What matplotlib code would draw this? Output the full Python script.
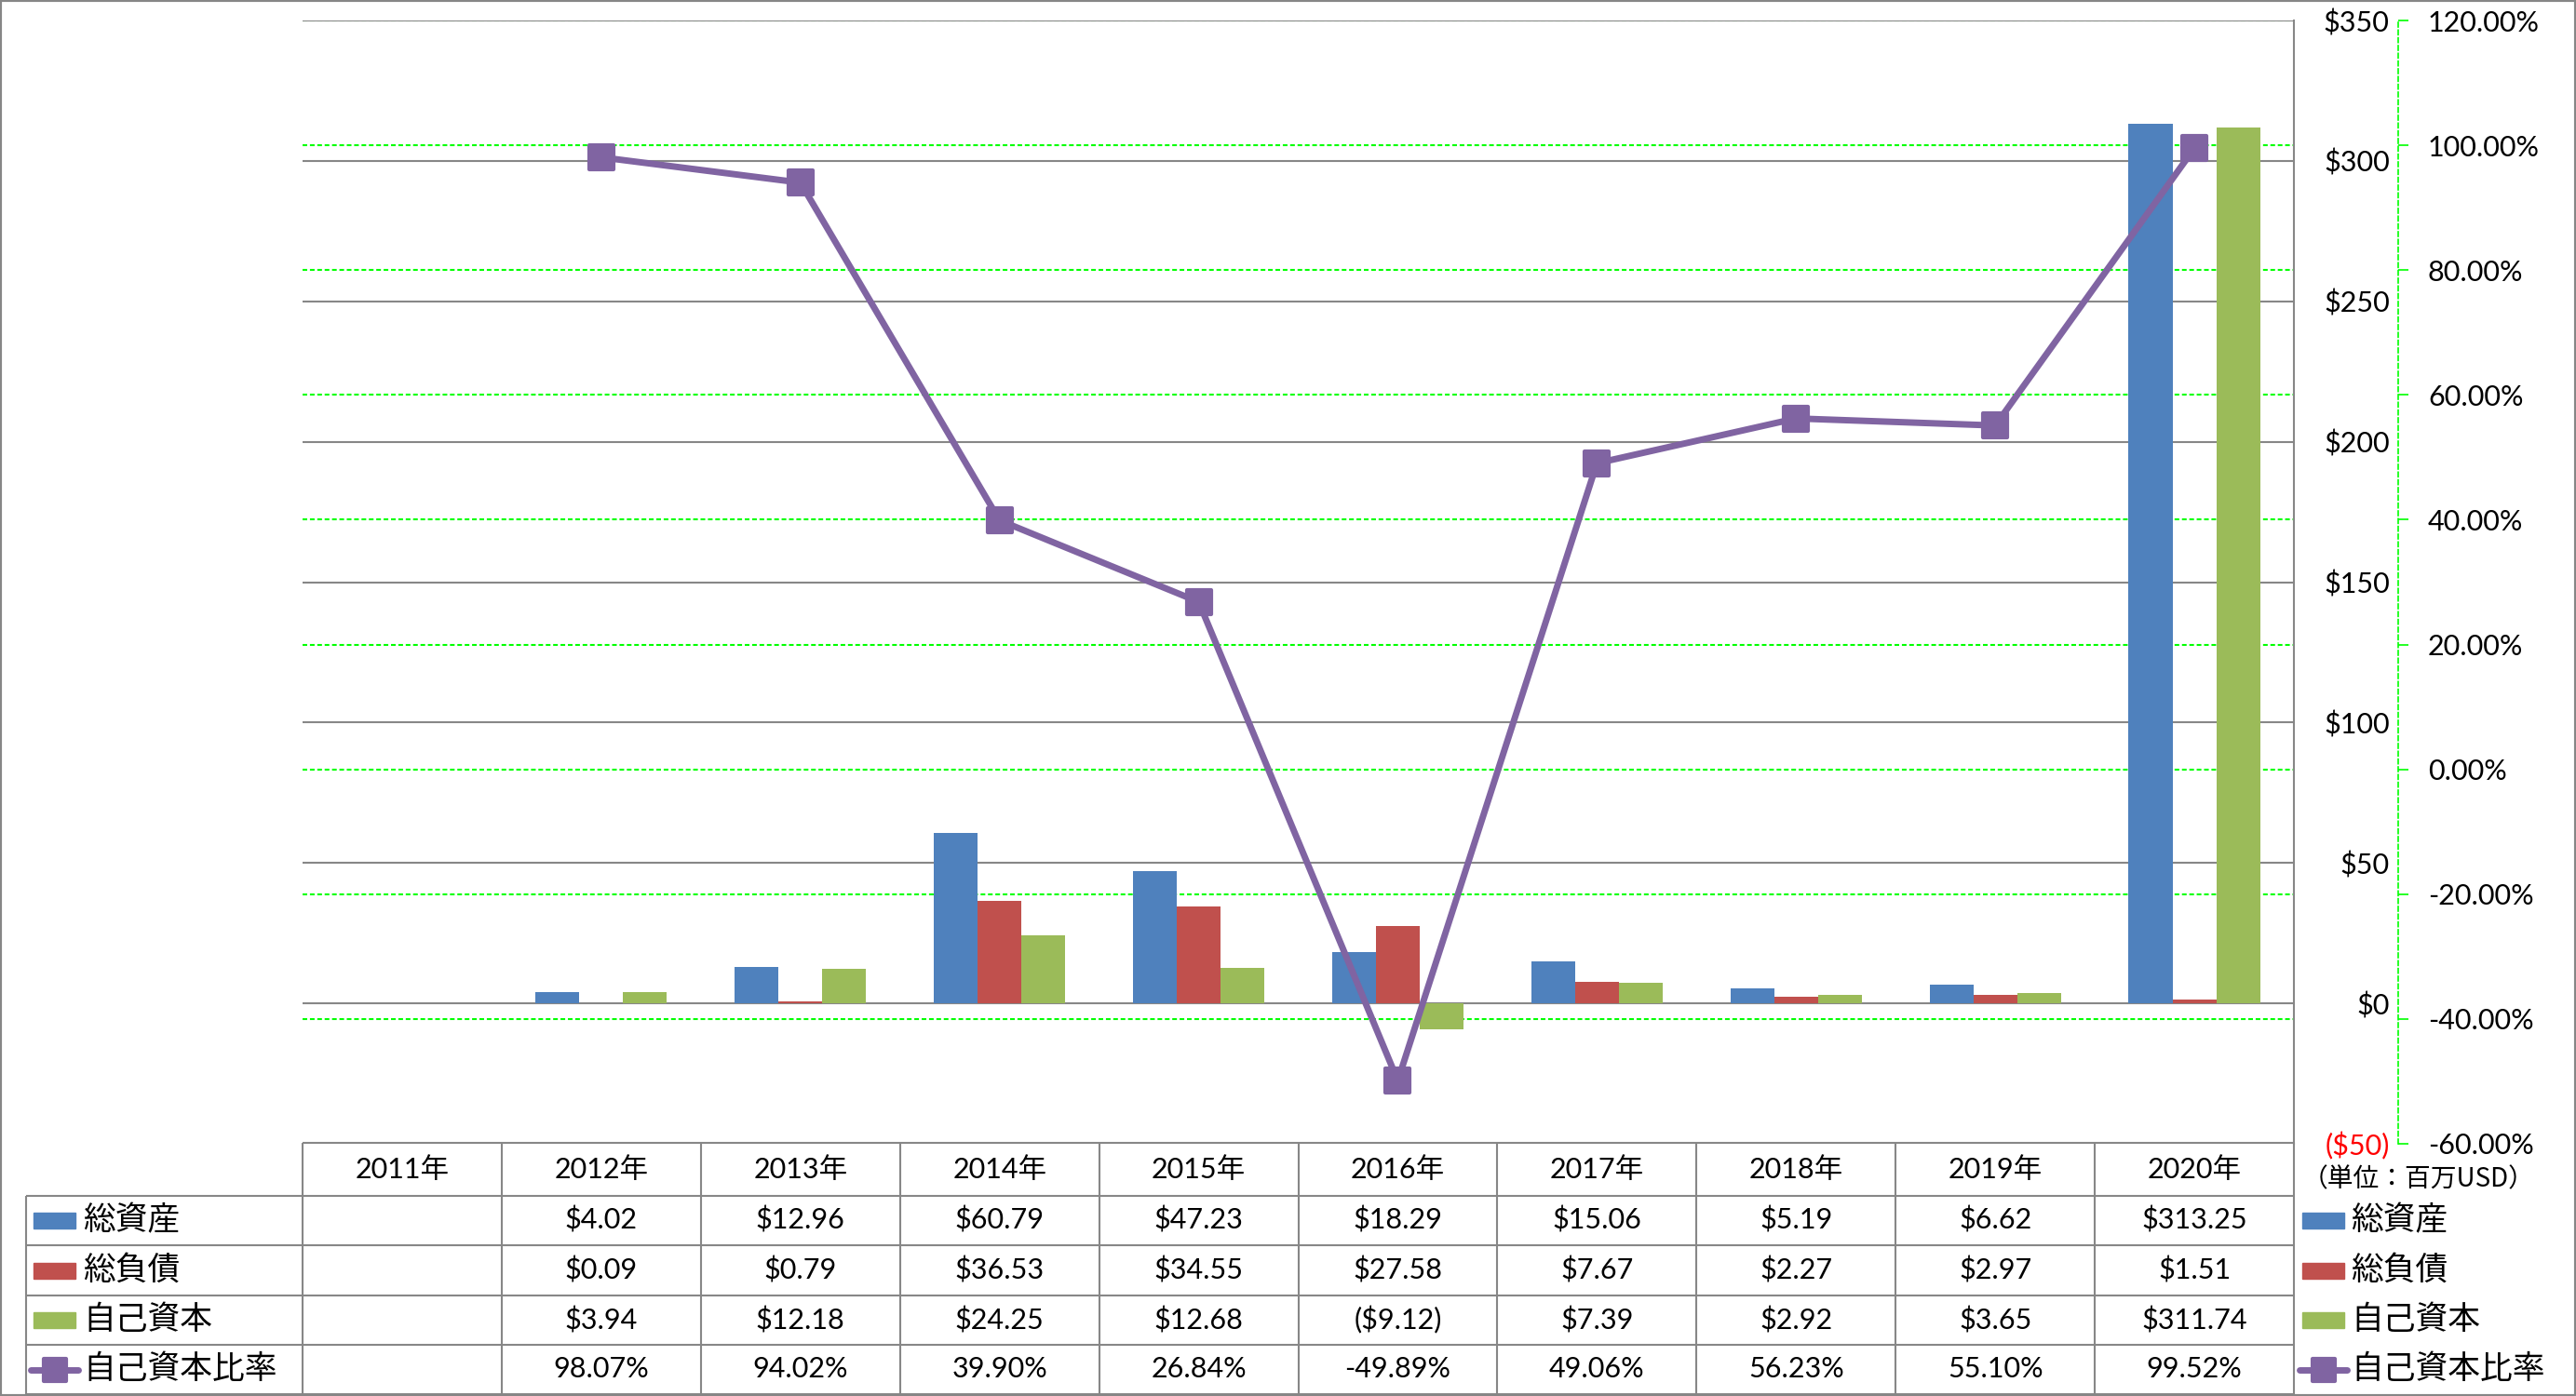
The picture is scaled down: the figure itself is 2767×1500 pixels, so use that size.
import numpy as np
import matplotlib
matplotlib.use("Agg")
import matplotlib.pyplot as plt
from matplotlib.patches import Rectangle
from matplotlib.markers import MarkerStyle

plt.rcParams['font.family'] = ['Lato', 'Noto Sans CJK JP', 'DejaVu Sans']

# ---------------- data ----------------
years = ["2011年", "2012年", "2013年", "2014年", "2015年", "2016年",
         "2017年", "2018年", "2019年", "2020年"]
total_assets = [np.nan, 4.02, 12.96, 60.79, 47.23, 18.29, 15.06, 5.19, 6.62, 313.25]
total_liabilities = [np.nan, 0.09, 0.79, 36.53, 34.55, 27.58, 7.67, 2.27, 2.97, 1.51]
equity = [np.nan, 3.94, 12.18, 24.25, 12.68, -9.12, 7.39, 2.92, 3.65, 311.74]
equity_ratio = [np.nan, 98.07, 94.02, 39.90, 26.84, -49.89, 49.06, 56.23, 55.10, 99.52]
series_names = ["総資産", "総負債", "自己資本", "自己資本比率"]
left_ticks = [-50, 0, 50, 100, 150, 200, 250, 300, 350]
right_ticks = [-60, -40, -20, 0, 20, 40, 60, 80, 100, 120]
unit_label = "（単位：百万USD）"

C_BLUE = "#4F81BD"
C_RED = "#C0504D"
C_GREEN = "#9BBB59"
C_PURPLE = "#8064A2"
C_GRID = "#878787"
C_LIME = "#00FF00"
NEG = "#FF0000"

W, H = 2767, 1500
fig = plt.figure(figsize=(W / 100, H / 100), dpi=100)

PL, PR, PT, PB = 325, 2464, 22, 1229
rect = [PL / W, 1 - PB / H, (PR - PL) / W, (PB - PT) / H]
n = len(years)
x = np.arange(n)

# ---- secondary gridlines (behind bars) ----
axg = fig.add_axes(rect, zorder=0)
axg.set_xlim(-0.5, n - 0.5)
axg.set_ylim(-60, 120)
axg.set_yticks(right_ticks)
axg.grid(axis='y', color=C_LIME, lw=1.5, linestyle=(0, (2.4, 1.4)))
axg.tick_params(length=0, labelleft=False, labelbottom=False)
axg.set_xticks([])
for s in axg.spines.values():
    s.set_visible(False)

# ---- primary axis: bars ----
ax = fig.add_axes(rect, zorder=1)
ax.patch.set_visible(False)
ax2 = ax.twinx()
ax2.set_zorder(2)
ax2.patch.set_visible(False)

bw = 0.22
ax.bar(x - bw, total_assets, bw, color=C_BLUE, zorder=3)
ax.bar(x, total_liabilities, bw, color=C_RED, zorder=3)
ax.bar(x + bw, equity, bw, color=C_GREEN, zorder=3)
ax.set_xlim(-0.5, n - 0.5)
ax.set_ylim(-50, 350)
ax.set_yticks(left_ticks)
ax.set_yticklabels([("(${})".format(abs(v)) if v < 0 else "${}".format(v)) for v in left_ticks])
ax.grid(axis='y', color=C_GRID, lw=1.5)
ax.set_axisbelow(True)
ax.set_xticks([])
ax.yaxis.set_ticks_position('right')
ax.tick_params(axis='y', length=0, pad=74, labelsize=22, labelright=True, labelleft=False)
for v, t in zip(left_ticks, ax.yaxis.get_major_ticks()):
    t.label2.set_horizontalalignment('right')
    t.label2.set_color(NEG if v < 0 else 'black')
for k in ['top', 'left', 'bottom']:
    ax.spines[k].set_visible(False)
ax.spines['right'].set_color(C_GRID)
ax.spines['right'].set_linewidth(1.5)

# ---- secondary axis: ratio line ----
msq = MarkerStyle('s', joinstyle='round')
ax2.plot(x, equity_ratio, color=C_PURPLE, lw=5, marker=msq, markersize=19,
         markeredgewidth=3, markerfacecolor=C_PURPLE, markeredgecolor=C_PURPLE,
         solid_capstyle='round', clip_on=False)
ax2.set_ylim(-60, 120)
ax2.set_yticks(right_ticks)
ax2.set_yticklabels(["{:.2f}%".format(v) for v in right_ticks])
for v, t in zip(right_ticks, ax2.yaxis.get_major_ticks()):
    t.label2.set_color(NEG if v < 0 else 'black')
ax2.tick_params(axis='y', direction='out', length=8, width=1.2, color=C_LIME,
                pad=15, labelsize=22)
for k in ['top', 'left', 'bottom']:
    ax2.spines[k].set_visible(False)
ax2.spines['right'].set_position(('outward', 80.6))
ax2.spines['right'].set_color(C_LIME)
ax2.spines['right'].set_linewidth(1.2)
ax2.spines['right'].set_linestyle((0, (3, 2)))

# ---- data table ----
TT = 1228
axt = fig.add_axes([0, 0, 1, (H - TT) / H], zorder=3)
axt.set_xlim(0, W)
axt.set_ylim(H, TT)
axt.axis('off')
CW = (PR - PL) / n
row_y = [1228, 1285, 1338, 1392, 1445, 1498]
LX = 28
lkw = dict(color=C_GRID, lw=1.5, clip_on=False, solid_capstyle='butt')
axt.plot([PL, PR], [row_y[0], row_y[0]], **lkw)
for yy in row_y[1:]:
    axt.plot([LX, PR], [yy, yy], **lkw)
axt.plot([LX, LX], [row_y[1], row_y[-1]], **lkw)
for i in range(n + 1):
    xx = PL + i * CW
    axt.plot([xx, xx], [row_y[0], row_y[-1]], **lkw)

def money(v):
    if np.isnan(v):
        return ""
    return "(${:.2f})".format(abs(v)) if v < 0 else "${:.2f}".format(v)

def pct(v):
    if np.isnan(v):
        return ""
    return "{:.2f}%".format(v)

row_c = [(row_y[i] + row_y[i + 1]) / 2 for i in range(5)]
rows = [[money(v) for v in total_assets],
        [money(v) for v in total_liabilities],
        [money(v) for v in equity],
        [pct(v) for v in equity_ratio]]
for i, yr in enumerate(years):
    cx = PL + (i + 0.5) * CW
    axt.text(cx, row_c[0], yr, ha='center', va='center', fontsize=22)
    for r in range(4):
        axt.text(cx, row_c[r + 1], rows[r][i], ha='center', va='center', fontsize=22)

bar_cols = [C_BLUE, C_RED, C_GREEN]

def legend_key(x0, yc, r):
    if r < 3:
        axt.add_patch(Rectangle((x0 + 3, yc - 8.5), 45, 17, color=bar_cols[r], clip_on=False))
    else:
        axt.plot([x0, x0 + 51], [yc, yc], color=C_PURPLE, lw=5, clip_on=False,
                 solid_capstyle='round')
        axt.plot([x0 + 25.5], [yc], marker=msq, markersize=17, markeredgewidth=3,
                 color=C_PURPLE, clip_on=False)

for r in range(4):
    yc = row_c[r + 1]
    legend_key(33, yc, r)
    axt.text(89, yc, series_names[r], ha='left', va='center', fontsize=25,
             family=['Noto Sans CJK JP'])
    legend_key(2470, yc, r)
    axt.text(2525, yc, series_names[r], ha='left', va='center', fontsize=25,
             family=['Noto Sans CJK JP'])

axt.text(2598, 1267, unit_label, ha='center', va='center', fontsize=20,
         family=['Noto Sans CJK JP'])

# figure border
fig.patches.append(Rectangle((0, 0), 1, 1, transform=fig.transFigure, fill=False,
                             ec="#868686", lw=3, zorder=10))

fig.savefig("out.png", dpi=100)
